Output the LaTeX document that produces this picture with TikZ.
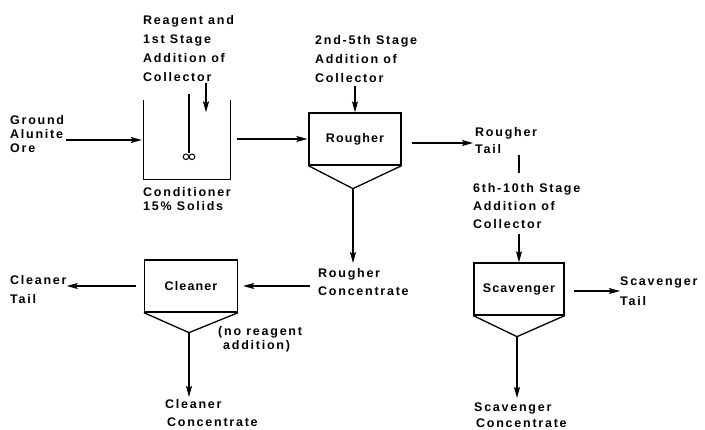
\documentclass[tikz,border=0pt]{standalone}
\usepackage{fontspec}
\setmainfont{Liberation Sans}[LetterSpace=14]
\newfontfamily\boxfont{Liberation Sans}[LetterSpace=9]
\usetikzlibrary{positioning,calc,arrows.meta}

\begin{document}
\begin{tikzpicture}[
        x=1pt, y=-1pt,
        font=\fontsize{12.5}{18}\selectfont\bfseries,
        cell/.style={draw, line width=1.3pt, minimum width=92pt, minimum height=52pt, inner sep=0pt,
            font=\boxfont\fontsize{12.5}{14}\selectfont\bfseries},
        txt/.style={align=left, anchor=north west, inner sep=0pt,
            font=\fontsize{12.5}{#1}\selectfont\bfseries},
        txt/.default=18,
        arr/.style={-{Stealth[length=11pt,width=6pt,inset=2pt]}, line width=1.3pt},
        wire/.style={line width=1.3pt},
    ]
        \useasboundingbox (0,0) rectangle (705,430);

        % Conditioner
        \node[minimum width=86pt, minimum height=79pt, inner sep=0pt] (cond) at (187,140) {};
        \draw[wire] (cond.north west) -- (cond.south west) -- (cond.south east) -- (cond.north east);
        \draw[wire] ($(cond.north)+(2,-6)$) -- ++(0,59) coordinate (imp);
        \draw[line width=1pt] ($(imp)+(-3,3.5)$) circle (2.8pt) ($(imp)+(3,3.5)$) circle (2.8pt);
        \coordinate (feed) at ($(cond.north)+(19,12)$);
        \node[txt=19] (reag) at (143,15) {Reagent and\\1st Stage\\Addition of\\Collector};
        \node[txt=14] (ore) at (10,115) {Ground\\Alunite\\Ore};
        \node[txt=14] (condlab) at (143,187) {Conditioner\\15\% Solids};

        % Rougher
        \node[cell] (rough) at (355,139) {Rougher};
        \coordinate (rough-tip) at ($(rough.south)+(-2,23)$);
        \draw[wire] (rough.south west) -- (rough-tip) -- (rough.south east);
        \node[txt=19] (col2) at (315,35) {2nd-5th Stage\\Addition of\\Collector};
        \node[txt=17] (rtail) at (475,127) {Rougher\\Tail};
        \node[txt=18] (rconc) at (318,268) {Rougher\\Concentrate};

        % Scavenger
        \node[cell, minimum width=90pt] (scav) at (519,289) {Scavenger};
        \coordinate (scav-tip) at ($(scav.south)+(-2,21)$);
        \draw[wire] (scav.south west) -- (scav-tip) -- (scav.south east);
        \node[txt=18] (col3) at (473,183) {6th-10th Stage\\Addition of\\Collector};
        \node[txt=20] (stail) at (620,277) {Scavenger\\Tail};
        \node[txt=16] (sconc) at (474,403) {Scavenger\\\hspace*{2pt}Concentrate};

        % Cleaner
        \node[cell, minimum width=93pt] (clean) at (191,286) {Cleaner};
        \coordinate (clean-tip) at ($(clean.south)+(-2,20)$);
        \draw[wire] (clean.south west) -- (clean-tip) -- (clean.south east);
        \node[txt=19] (ctail) at (10,275) {Cleaner\\Tail};
        \node[txt=14] (noreag) at (218,326) {(no reagent\\\hspace*{5pt}addition)};
        \node[txt=18] (cconc) at (165,399) {Cleaner\\\hspace*{2pt}Concentrate};

        \draw[arr, shorten <=2pt, shorten >=2pt] (ore.east |- cond.west) -- (cond.west);
        \draw[arr, shorten <=1pt] (reag.south -| feed) -- (feed);
        \draw[arr, shorten <=7pt, shorten >=1pt] (cond.east |- rough.west) -- (rough.west);
        \draw[arr, shorten <=3pt] (col2.south -| rough.north) -- (rough.north);
        \draw[arr, shorten <=10pt, shorten >=2pt] ($(rough.east)+(0,4)$) -- ($(rough.east -| rtail.west)+(0,4)$);
        \draw[wire, shorten <=1pt, shorten >=10pt] (rtail.south -| scav.north) -- (col3.north -| scav.north);
        \draw[arr, shorten <=5pt] (col3.south -| scav.north) -- (scav.north);
        \draw[arr, shorten <=9pt] ($(scav.east)+(0,2)$) -- ($(scav.east -| stail.west)+(0,2)$);
        \draw[arr, shorten >=5pt] (scav-tip) -- (scav-tip |- sconc.north);
        \draw[arr, shorten >=5pt] (rough-tip) -- (rough-tip |- rconc.north);
        \draw[arr, shorten <=8pt, shorten >=5pt] (rconc.west |- clean.east) -- (clean.east);
        \draw[arr, shorten <=8pt] (clean.west) -- (clean.west -| ctail.east);
        \draw[arr, shorten >=2pt] (clean-tip) -- (clean-tip |- cconc.north);
    \end{tikzpicture}
\end{document}
